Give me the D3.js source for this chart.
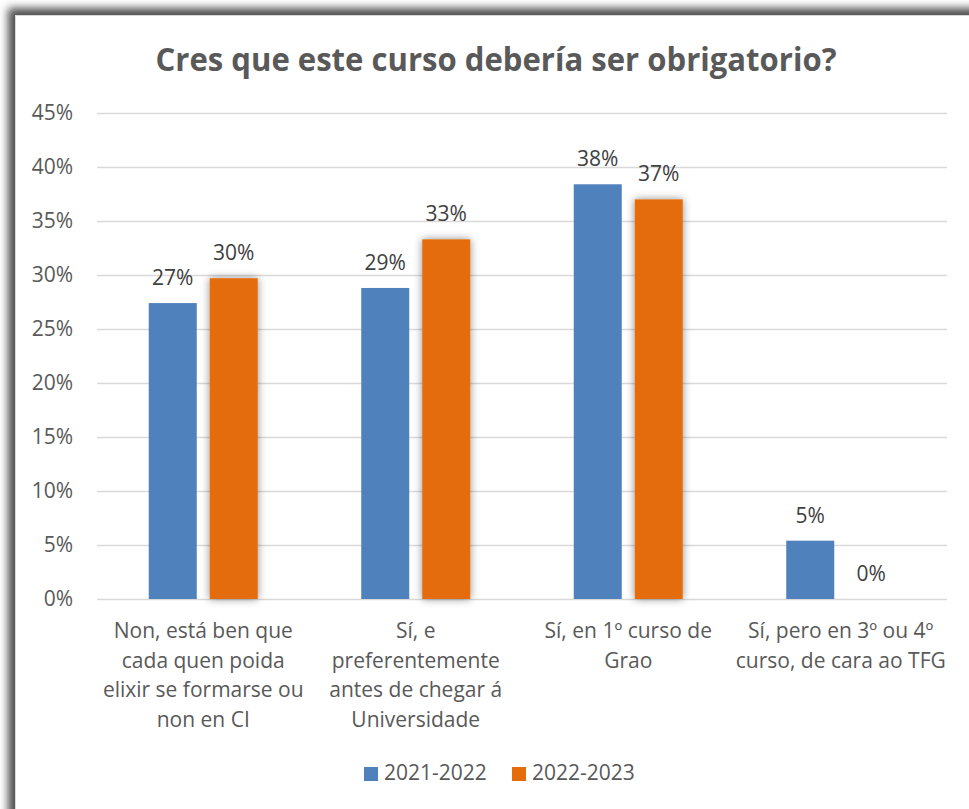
<!DOCTYPE html>
<html>
<head>
<meta charset="utf-8">
<script src="https://d3js.org/d3.v7.min.js"></script>
<style>
  body { margin: 0; background: #fff; }
  svg { display: block; font-family: 'Open Sans', sans-serif; }
</style>
</head>
<body>
<section></section>
<script>
// values
let categories = [
  'Non, está ben que\ncada quen poida\nelixir se formarse ou\nnon en CI',
  'Sí, e\npreferentemente\nantes de chegar á\nUniversidade',
  'Sí, en 1º curso de\nGrao',
  'Sí, pero en 3º ou 4º\ncurso, de cara ao TFG'
];
let seriesNames = ['2021-2022', '2022-2023'];
let values2122 = [0.274, 0.288, 0.384, 0.054];
let values2223 = [0.297, 0.333, 0.370, 0];
let yTicks = [0, 0.05, 0.10, 0.15, 0.20, 0.25, 0.30, 0.35, 0.40, 0.45];
let colors = ['#4F81BD', '#E46C0A'];

let width = 969;
let height = 809;
let plotLeft = 97, plotRight = 947, plotTop = 113, plotBottom = 599;
let textColor = '#595959';
let fontSize = 21;

let svg = d3.select('section').append('svg')
            .attr('width', width)
            .attr('height', height);

let defs = svg.append('defs');
defs.append('filter')
    .attr('id', 'frameShadow')
    .attr('x', '-5%').attr('y', '-5%').attr('width', '110%').attr('height', '110%')
    .append('feGaussianBlur')
    .attr('stdDeviation', 4);

let barShadow = defs.append('filter')
    .attr('id', 'barShadow')
    .attr('x', '-50%').attr('y', '-20%').attr('width', '200%').attr('height', '140%');
barShadow.append('feGaussianBlur').attr('in', 'SourceAlpha').attr('stdDeviation', 4).attr('result', 'blur');
barShadow.append('feFlood').attr('flood-color', '#000').attr('flood-opacity', 0.45);
barShadow.append('feComposite').attr('in2', 'blur').attr('operator', 'in').attr('result', 'shadow');
let merge = barShadow.append('feMerge');
merge.append('feMergeNode').attr('in', 'shadow');
merge.append('feMergeNode').attr('in', 'SourceGraphic');

// chart frame with soft shadow
svg.append('rect')
   .attr('x', 8).attr('y', 8)
   .attr('width', width + 40).attr('height', height + 40)
   .attr('fill', '#505050')
   .attr('filter', 'url(#frameShadow)');
svg.append('rect')
   .attr('x', 15.5).attr('y', 15.5)
   .attr('width', width + 40).attr('height', height + 40)
   .attr('fill', '#fff')
   .attr('stroke', '#d9d9d9')
   .attr('stroke-width', 1);

let y = d3.scaleLinear()
          .domain([0, 0.45])
          .range([plotBottom, plotTop]);
let x0 = d3.scaleBand()
           .domain(categories)
           .range([plotLeft, plotRight])
           .paddingInner(0.487)
           .paddingOuter(0.2435);
let x1 = d3.scaleBand()
           .domain(seriesNames)
           .range([0, x0.bandwidth()])
           .paddingInner(0.213);

// gridlines
let yAxis = d3.axisLeft(y)
              .tickValues(yTicks)
              .tickSize(-(plotRight - plotLeft))
              .tickPadding(24)
              .tickFormat(d3.format('.0%'));

let gAxis = svg.append('g')
               .attr('transform', 'translate(' + plotLeft + ',0)')
               .call(yAxis);
gAxis.select('.domain').remove();
gAxis.selectAll('.tick line')
     .attr('stroke', '#d9d9d9')
     .attr('stroke-width', 1.5);
gAxis.selectAll('.tick text')
     .attr('fill', textColor)
     .attr('font-size', fontSize)
     .attr('font-family', "'Open Sans', sans-serif");

// bars
let rows = categories.map((c, i) => {
  return { cat: c, vals: [values2122[i], values2223[i]] };
});

let groups = svg.selectAll('.group')
                .data(rows)
                .enter()
                .append('g')
                .attr('class', 'group')
                .attr('transform', (d) => { return 'translate(' + x0(d.cat) + ',0)'; });

groups.selectAll('rect')
      .data((d) => { return d.vals.map((v, j) => { return { s: seriesNames[j], v: v, j: j }; }); })
      .enter()
      .append('rect')
      .attr('x', (d) => { return x1(d.s); })
      .attr('y', (d) => { return y(d.v); })
      .attr('width', x1.bandwidth())
      .attr('height', (d) => { return y(0) - y(d.v); })
      .attr('fill', (d) => { return colors[d.j]; })
      .attr('filter', (d) => { return d.j === 1 && d.v > 0 ? 'url(#barShadow)' : null; });

groups.selectAll('.lbl')
      .data((d) => { return d.vals.map((v, j) => { return { s: seriesNames[j], v: v }; }); })
      .enter()
      .append('text')
      .attr('class', 'lbl')
      .attr('x', (d) => { return x1(d.s) + x1.bandwidth() / 2; })
      .attr('y', (d) => { return y(d.v) - 18; })
      .attr('text-anchor', 'middle')
      .attr('font-size', fontSize)
      .attr('fill', '#404040')
      .text((d) => { return d3.format('.0%')(d.v); });

// category labels
let catLabels = svg.selectAll('.cat')
                   .data(categories)
                   .enter()
                   .append('text')
                   .attr('class', 'cat')
                   .attr('text-anchor', 'middle')
                   .attr('font-size', fontSize)
                   .attr('fill', textColor);
catLabels.selectAll('tspan')
         .data((d) => { return d.split('\n').map((t) => { return { t: t, c: d }; }); })
         .enter()
         .append('tspan')
         .attr('x', (d) => { return x0(d.c) + x0.bandwidth() / 2; })
         .attr('y', (d, i) => { return plotBottom + 39 + i * 29.5; })
         .text((d) => { return d.t; });

// title
svg.append('text')
   .attr('x', 496)
   .attr('y', 71)
   .attr('text-anchor', 'middle')
   .attr('font-size', 32)
   .attr('font-weight', 'bold')
   .attr('fill', textColor)
   .attr('textLength', 681)
   .attr('lengthAdjust', 'spacingAndGlyphs')
   .text('Cres que este curso debería ser obrigatorio?');

// legend
let legendX = [364, 512];
let legend = svg.selectAll('.legend')
                .data(seriesNames)
                .enter()
                .append('g')
                .attr('class', 'legend')
                .attr('transform', (d, i) => { return 'translate(' + legendX[i] + ',765)'; });
legend.append('rect')
      .attr('width', 14).attr('height', 14)
      .attr('y', 2)
      .attr('fill', (d, i) => { return colors[i]; });
legend.append('text')
      .attr('x', 20)
      .attr('y', 15)
      .attr('font-size', fontSize)
      .attr('fill', textColor)
      .text((d) => { return d; });
</script>
</body>
</html>
